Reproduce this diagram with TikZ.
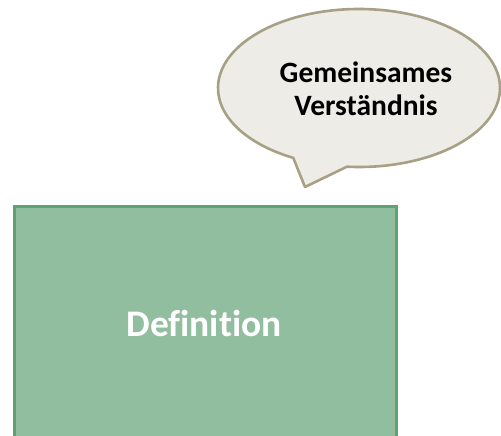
\documentclass[tikz,border=0pt]{standalone}
\usepackage{fontspec}
\setmainfont{Carlito}[Ligatures=NoCommon, RawFeature={-liga;-clig;-dlig}]
\definecolor{boxfill}{RGB}{146,190,160}
\definecolor{boxline}{RGB}{98,161,115}
\definecolor{bubblefill}{RGB}{238,236,230}
\definecolor{bubbleline}{RGB}{167,160,132}
\tikzset{
  defbox/.style={fill=boxfill, draw=boxline, line width=3pt},
  bubble/.style={fill=bubblefill, draw=bubbleline, line width=2.6pt, line join=round},
  deftext/.style={text=white, font=\fontsize{37.5}{44}\selectfont\bfseries, inner sep=0pt, anchor=base},
  bubbletext/.style={text=black, font=\fontsize{29.5}{33}\selectfont\bfseries, inner sep=0pt, align=center},
}
\begin{document}
\begin{tikzpicture}[x=1pt,y=1pt]
\useasboundingbox (0,0) rectangle (501,436);
% definition box (runs past the lower edge)
\draw[defbox] (14,-20) rectangle (396,229);
\node[deftext] (deftxt) at (204,99) {Definition};
% speech bubble
\coordinate (bc) at (359,348);
\coordinate (tip) at (305,249);
\draw[bubble] (bc) ++(265.1:141 and 79)
  arc[start angle=265.1, end angle=602.2, x radius=141, y radius=79]
  -- (tip) -- cycle;
\node[bubbletext] (bubtxt) at (366,347) {Gemeinsames\\Verständnis};
\end{tikzpicture}
\end{document}
